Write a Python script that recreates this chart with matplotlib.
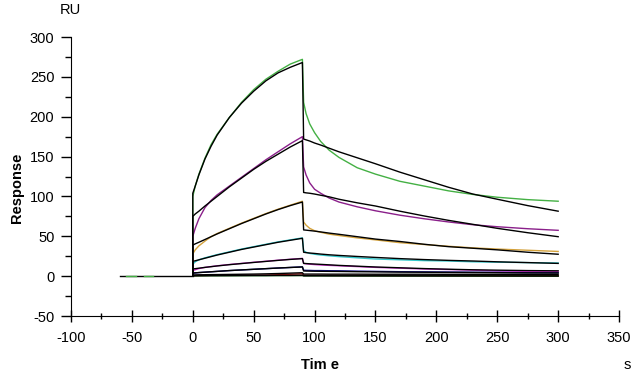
import matplotlib
matplotlib.use("Agg")
import matplotlib.pyplot as plt
from matplotlib.ticker import MultipleLocator

plt.rcParams['font.family'] = ['Liberation Sans', 'DejaVu Sans']
plt.rcParams['axes.unicode_minus'] = False

# time grids (s)
t_base = [-60, 0]
t_assoc = [0, 2, 5, 10, 15, 20, 30, 40, 50, 60, 70, 80, 90]
t_dissoc = [90, 91, 93, 96, 100, 105, 112, 120, 135, 150, 170, 190, 210, 230, 250, 275, 300]

# measured responses (RU)
green_a = [100, 113, 128, 148, 165, 178, 199, 218, 234, 247, 257, 266, 272]
green_d = [272, 218, 204, 191, 180, 169, 158, 149, 136, 128, 119, 113, 107, 102.5, 99, 96, 94]
purple_a = [50, 60, 72, 86, 95, 102, 113, 124, 135, 146, 156, 166, 175]
purple_d = [175, 137, 127, 117, 109, 104, 98, 93, 87, 82, 76.5, 72, 68, 64.5, 62, 59.5, 57.5]
orange_a = [28, 33, 38, 44, 49.5, 53.5, 60, 66.5, 72.5, 78.5, 84, 89, 94]
orange_d = [94, 68, 64, 60, 57, 55, 52.7, 51, 48, 45.5, 42, 39.7, 37.5, 35.5, 34, 32.5, 31]
cyan_a = [15, 18, 20.5, 23, 25, 27, 30.5, 34, 37, 40, 43, 45.5, 48]
cyan_d = [48, 32, 30, 28.5, 27.5, 26.5, 25.5, 24.5, 23, 21.5, 20.5, 19.5, 19, 18, 17.5, 17, 16.5]
magenta_a = [7, 8, 9.5, 11, 12, 13, 14.6, 16, 17.4, 18.7, 20, 21.2, 22.3]
magenta_d = [22.3, 16, 15.5, 15, 14.5, 14, 13.5, 13, 12, 11, 10, 9, 8.3, 7.5, 6.5, 6, 6]
navy_a = [3.5, 4, 4.5, 5, 5.5, 6, 7, 7.8, 8.6, 9.4, 10.2, 10.9, 11.7]
navy_d = [11.7, 7.5, 7.3, 7.2, 7, 7, 6.8, 6.7, 6.3, 6, 5.6, 5.4, 5.2, 5, 4.8, 4.3, 4.2]
red_a = [0.5, 0.7, 0.8, 0.9, 1, 1.1, 1.2, 1.2, 1.2, 1.3, 1.8, 2.4, 3]
red_d = [3, 1, 1, 1, 1, 1, 1, 0.9, 0.9, 0.8, 0.8, 0.7, 0.7, 0.6, 0.6, 0.5, 0.5]
dgreen_a = [0.3, 0.3, 0.3, 0.4, 0.4, 0.4, 0.4, 0.5, 0.5, 0.5, 0.6, 0.6, 0.7]
dgreen_d = [0.7, 0.3, 0.3, 0.3, 0.3, 0.3, 0.3, 0.3, 0.2, 0.2, 0.2, 0.2, 0.1, 0.1, 0.1, 0, 0]

# fitted responses (RU)
green_fa = [104, 113, 127, 147, 163, 177, 199, 217, 232, 245, 255, 262, 268]
green_fd = [268, 172, 171, 169.5, 167, 164.5, 160.5, 156, 148.5, 141, 130.5, 121, 111.5, 103, 96.5, 88.5, 81.5]
purple_fa = [75, 78, 81.5, 88, 94, 100, 112, 123, 134, 144, 153, 162, 170]
purple_fd = [170, 105, 104.5, 104, 103, 101.5, 99.5, 96.5, 92, 88, 81.5, 75.5, 70, 65, 60, 54.5, 49.5]
orange_fa = [39, 40.5, 42.5, 46, 49.5, 53, 59.5, 66, 72, 78, 83.5, 88.5, 93]
orange_fd = [93, 58, 57.7, 57.2, 56.5, 55.5, 54, 52.5, 49.5, 46.5, 43.5, 40, 37, 35, 33, 30, 27.5]
cyan_fa = [18.5, 19.3, 20.5, 22.5, 24.5, 26.5, 30, 33.5, 36.5, 39.5, 42.5, 45, 47.5]
cyan_fd = [47.5, 30, 29.5, 29, 28.5, 27.7, 26.8, 26, 24.7, 23.5, 22, 20.8, 19.8, 19, 18, 17, 16]
magenta_fa = [9, 9.4, 10, 11, 11.9, 12.8, 14.4, 15.8, 17.2, 18.5, 19.8, 21, 22]
magenta_fd = [22, 16, 15.8, 15.5, 15.2, 14.8, 14.2, 13.5, 12.5, 11.5, 10.5, 9.5, 8.7, 8, 7.5, 7, 6.7]
navy_fa = [4, 4.2, 4.5, 5, 5.5, 6, 7, 7.8, 8.6, 9.4, 10.2, 10.9, 11.5]
navy_fd = [11.5, 6.5, 6.4, 6.3, 6.2, 6.1, 6, 5.9, 5.6, 5.4, 5.1, 4.9, 4.7, 4.5, 4.3, 4.1, 4]
red_fa = [1.5, 1.6, 1.7, 1.8, 1.9, 2, 2.2, 2.4, 2.6, 2.9, 3.3, 3.8, 4.3]
red_fd = [4.3, 2.6, 2.6, 2.6, 2.6, 2.6, 2.5, 2.5, 2.5, 2.4, 2.4, 2.4, 2.3, 2.3, 2.3, 2.2, 2.2]
dgreen_fa = [0.6, 0.6, 0.7, 0.7, 0.8, 0.8, 0.9, 0.9, 1, 1, 1.1, 1.1, 1.2]
dgreen_fd = [1.2, 0.6, 0.6, 0.6, 0.6, 0.6, 0.5, 0.5, 0.5, 0.5, 0.4, 0.4, 0.4, 0.4, 0.3, 0.3, 0.3]

series = [
    (green_a, green_d, green_fa, green_fd, '#44b044'),
    (purple_a, purple_d, purple_fa, purple_fd, '#8a1f8a'),
    (orange_a, orange_d, orange_fa, orange_fd, '#d4a23c'),
    (cyan_a, cyan_d, cyan_fa, cyan_fd, '#33c8cc'),
    (magenta_a, magenta_d, magenta_fa, magenta_fd, '#d030d0'),
    (navy_a, navy_d, navy_fa, navy_fd, '#10108a'),
    (red_a, red_d, red_fa, red_fd, '#b01010'),
    (dgreen_a, dgreen_d, dgreen_fa, dgreen_fd, '#0a4a0a'),
]

fig = plt.figure(figsize=(6.38, 3.75), dpi=100)
ax = fig.add_axes([0.1113, 0.1573, 0.8590, 0.7440])

t_all = [0] + t_assoc + t_dissoc
for a, d, fa, fd, c in series:
    ax.plot(t_all, [0] + a + d, color=c, lw=1.0, zorder=2)
for a, d, fa, fd, c in series:
    ax.plot(t_all, [0] + fa + fd, color='black', lw=1.0, zorder=3)

ax.plot(t_base, [0, 0], color='black', lw=1.0, zorder=3)
ax.plot([-55, -47], [0, 0], color='#44b044', lw=1.0, zorder=4)
ax.plot([-40, -33], [0, 0], color='#44b044', lw=1.0, zorder=4)

ax.set_xlim(-100, 350)
ax.set_ylim(-50, 300)
ax.spines['top'].set_visible(False)
ax.spines['right'].set_visible(False)
ax.xaxis.set_major_locator(MultipleLocator(50))
ax.xaxis.set_minor_locator(MultipleLocator(25))
ax.yaxis.set_major_locator(MultipleLocator(50))
ax.yaxis.set_minor_locator(MultipleLocator(25))
ax.tick_params(axis='x', which='major', direction='inout', length=9, width=1, labelsize=10.5, pad=6)
ax.tick_params(axis='x', which='minor', direction='inout', length=4, width=1)
ax.tick_params(axis='y', which='major', direction='out', length=7, width=1, labelsize=10.5, pad=5)
ax.tick_params(axis='y', which='minor', direction='out', length=4, width=1)

fig.text(0.110, 0.972, 'RU', fontsize=10.5, ha='center', va='center')
fig.text(0.027, 0.50, 'Response', fontsize=10.5, fontweight='bold', rotation=90, ha='center', va='center')
fig.text(0.502, 0.027, 'Tim e', fontsize=10.5, fontweight='bold', ha='center', va='center')
fig.text(0.983, 0.027, 's', fontsize=10.5, ha='center', va='center')

fig.savefig('out.png', dpi=100)
